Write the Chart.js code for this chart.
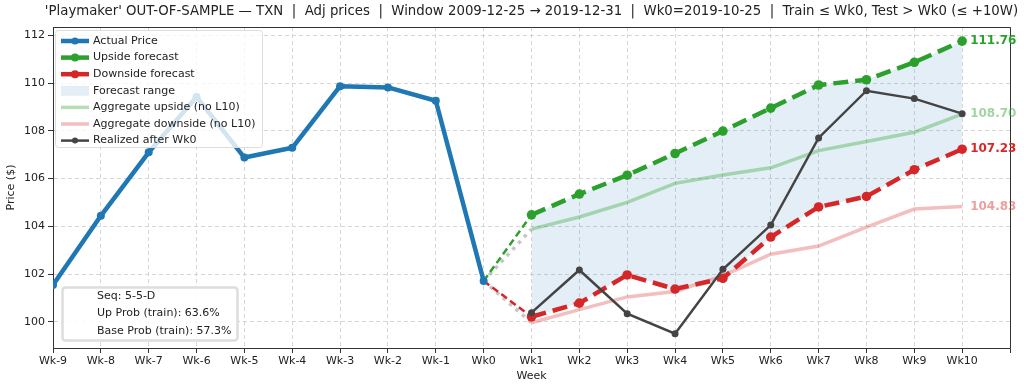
<!DOCTYPE html>
<html>
<head>
<meta charset="utf-8">
<script src="https://cdn.jsdelivr.net/npm/chart.js@4.4.1/dist/chart.umd.min.js"></script>
<style>
  html, body { margin: 0; padding: 0; background: #fff; }
</style>
</head>
<body>
<canvas id="myChart" width="1024" height="391"></canvas>
<script>
const weekLabels = ['Wk-9','Wk-8','Wk-7','Wk-6','Wk-5','Wk-4','Wk-3','Wk-2','Wk-1','Wk0',
                    'Wk1','Wk2','Wk3','Wk4','Wk5','Wk6','Wk7','Wk8','Wk9','Wk10'];

// Wk-9 .. Wk0
const actualPrice = [101.54, 104.44, 107.10, 109.42, 106.88, 107.29, 109.87, 109.82, 109.26, 101.71];
// Wk1 .. Wk10
const upsideForecast   = [104.48, 105.35, 106.14, 107.05, 107.99, 108.95, 109.92, 110.14, 110.87, 111.76];
const downsideForecast = [100.21, 100.78, 101.96, 101.37, 101.82, 103.55, 104.81, 105.25, 106.37, 107.23];
const aggUpside        = [103.88, 104.39, 105.00, 105.80, 106.15, 106.45, 107.17, 107.55, 107.94, 108.70];
const aggDownside      = [ 99.96, 100.51, 101.04, 101.27, 101.92, 102.83, 103.17, 103.96, 104.72, 104.83];
const realized         = [100.38, 102.17, 100.34,  99.50, 102.20, 104.05, 107.70, 109.68, 109.35, 108.72];

const yTicks = [100, 102, 104, 106, 108, 110, 112];
const infoLines = ['Seq: 5-5-D', 'Up Prob (train): 63.6%', 'Base Prob (train): 57.3%'];
const titleText = "'Playmaker' OUT-OF-SAMPLE \u2014 TXN  |  Adj prices  |  Window 2009-12-25 \u2192 2019-12-31  |  Wk0=2019-10-25  |  Train \u2264 Wk0, Test > Wk0 (\u2264 +10W)";

const BLUE = '#1f77b4', GREEN = '#2ca02c', RED = '#d62728', DARK = '#444444';
const FONT = '"DejaVu Sans", sans-serif';

const past = actualPrice.map((v, i) => i);
const future = upsideForecast.map((v, i) => i + actualPrice.length);
const wk0 = past.length - 1;
const pts = (xs, ys) => xs.map((x, i) => ({ x: x, y: ys[i] }));
const link = (yEnd) => [{ x: wk0, y: actualPrice[wk0] }, { x: future[0], y: yEnd }];

const datasets = [
  { label: 'Realized after Wk0', data: pts(future, realized), borderColor: DARK, backgroundColor: DARK,
    borderWidth: 2.5, pointRadius: 3.5, pointBorderWidth: 0, order: 0 },
  { label: 'Actual Price', data: pts(past, actualPrice), borderColor: BLUE, backgroundColor: BLUE,
    borderWidth: 4.5, pointRadius: 4, pointBorderWidth: 0, borderJoinStyle: 'round', order: 1 },
  { label: 'Upside forecast', data: pts(future, upsideForecast), borderColor: GREEN, backgroundColor: GREEN,
    borderWidth: 4.5, borderDash: [15, 7], pointRadius: 4.8, pointBorderWidth: 0, order: 2,
    fill: { target: 3, above: 'rgba(31,119,180,0.12)', below: 'rgba(31,119,180,0.12)' } },
  { label: 'Downside forecast', data: pts(future, downsideForecast), borderColor: RED, backgroundColor: RED,
    borderWidth: 4.5, borderDash: [15, 7], pointRadius: 4.8, pointBorderWidth: 0, order: 3 },
  { label: 'up link', data: link(upsideForecast[0]), borderColor: GREEN, borderWidth: 2.5,
    borderDash: [7, 4], pointRadius: 0, order: 4 },
  { label: 'down link', data: link(downsideForecast[0]), borderColor: RED, borderWidth: 2.5,
    borderDash: [7, 4], pointRadius: 0, order: 5 },
  { label: 'agg up link', data: link(aggUpside[0]), borderColor: 'rgba(160,160,160,0.6)', borderWidth: 3.5,
    borderDash: [3.5, 5], pointRadius: 0, order: 6 },
  { label: 'agg down link', data: link(aggDownside[0]), borderColor: 'rgba(160,160,160,0.6)', borderWidth: 3.5,
    borderDash: [3.5, 5], pointRadius: 0, order: 7 },
  { label: 'Aggregate upside (no L10)', data: pts(future, aggUpside), borderColor: 'rgba(44,160,44,0.35)',
    borderWidth: 3.5, pointRadius: 0, order: 8 },
  { label: 'Aggregate downside (no L10)', data: pts(future, aggDownside), borderColor: 'rgba(214,39,40,0.3)',
    borderWidth: 3.5, pointRadius: 0, order: 9 }
];

const legendItems = [
  { label: 'Actual Price', color: BLUE, width: 4.5, dash: [], r: 3.5 },
  { label: 'Upside forecast', color: GREEN, width: 4.5, dash: [], r: 4 },
  { label: 'Downside forecast', color: RED, width: 4.5, dash: [], r: 4 },
  { label: 'Forecast range', box: 'rgba(31,119,180,0.12)' },
  { label: 'Aggregate upside (no L10)', color: 'rgba(44,160,44,0.35)', width: 3.5, dash: [], r: 0 },
  { label: 'Aggregate downside (no L10)', color: 'rgba(214,39,40,0.3)', width: 3.5, dash: [], r: 0 },
  { label: 'Realized after Wk0', color: DARK, width: 2.5, dash: [], r: 3 }
];

const endLabels = [
  { v: upsideForecast[upsideForecast.length - 1], color: GREEN },
  { v: aggUpside[aggUpside.length - 1], color: 'rgba(44,160,44,0.45)' },
  { v: downsideForecast[downsideForecast.length - 1], color: RED },
  { v: aggDownside[aggDownside.length - 1], color: 'rgba(214,39,40,0.45)' }
];

const overlay = {
  id: 'overlay',
  afterDraw(chart) {
    const { ctx, chartArea: a, scales: { x, y } } = chart;
    ctx.save();
    // top and right spines
    ctx.strokeStyle = '#333'; ctx.lineWidth = 1;
    ctx.beginPath();
    ctx.moveTo(a.left, a.top + 0.5); ctx.lineTo(a.right + 0.5, a.top + 0.5); ctx.lineTo(a.right + 0.5, a.bottom);
    ctx.stroke();

    // title
    ctx.fillStyle = '#222'; ctx.font = '13.3px ' + FONT;
    ctx.textAlign = 'center'; ctx.textBaseline = 'middle';
    ctx.fillText(titleText, (a.left + a.right) / 2, 12);

    // values at Wk10
    ctx.font = 'bold 12px ' + FONT; ctx.textAlign = 'left';
    const xEnd = x.getPixelForValue(future[future.length - 1]) + 8;
    endLabels.forEach(l => { ctx.fillStyle = l.color; ctx.fillText(l.v.toFixed(2), xEnd, y.getPixelForValue(l.v)); });

    // legend
    const lx = a.left + 2, ly = a.top + 3, lw = 207, lh = 117;
    ctx.beginPath(); ctx.roundRect(lx + 0.5, ly + 0.5, lw, lh, 3);
    ctx.fillStyle = 'rgba(255,255,255,0.8)'; ctx.fill();
    ctx.strokeStyle = '#dddddd'; ctx.lineWidth = 1; ctx.stroke();
    ctx.font = '11px ' + FONT; ctx.textAlign = 'left'; ctx.textBaseline = 'middle';
    legendItems.forEach((it, i) => {
      const cy = ly + 11 + i * 16.6;
      if (it.box) {
        ctx.fillStyle = it.box; ctx.fillRect(lx + 6, cy - 5, 28, 10);
      } else {
        ctx.strokeStyle = it.color; ctx.lineWidth = it.width; ctx.setLineDash(it.dash);
        ctx.beginPath(); ctx.moveTo(lx + 6, cy); ctx.lineTo(lx + 34, cy); ctx.stroke();
        ctx.setLineDash([]);
        if (it.r) { ctx.fillStyle = it.color; ctx.beginPath(); ctx.arc(lx + 20, cy, it.r, 0, Math.PI * 2); ctx.fill(); }
      }
      ctx.fillStyle = '#222'; ctx.fillText(it.label, lx + 38, cy);
    });

    // info box
    const bx = a.left + 9, by = a.bottom - 61, bw = 175, bh = 53;
    ctx.beginPath(); ctx.roundRect(bx + 0.5, by + 0.5, bw, bh, 3);
    ctx.fillStyle = 'rgba(255,255,255,0.85)'; ctx.fill();
    ctx.strokeStyle = '#dddddd'; ctx.stroke();
    ctx.fillStyle = '#222';
    infoLines.forEach((t, i) => ctx.fillText(t, bx + 35, by + 9 + i * 17.5));
    ctx.restore();
  }
};

Chart.defaults.font.family = FONT;
Chart.defaults.font.size = 11;
Chart.defaults.color = '#222';

const ctx = document.getElementById('myChart');
const chart = new Chart(ctx, {
  type: 'line',
  data: { datasets: datasets },
  plugins: [overlay],
  options: {
    responsive: false,
    animation: false,
    layout: { padding: { top: 27, right: 14, left: 0, bottom: 0 } },
    plugins: {
      legend: { display: false },
      tooltip: { enabled: false },
      filler: { drawTime: 'beforeDatasetsDraw' }
    },
    scales: {
      x: {
        type: 'linear', min: 0, max: weekLabels.length,
        afterFit: s => { s.height = 43; },
        afterBuildTicks: s => { s.ticks = weekLabels.map((l, i) => ({ value: i })).concat([{ value: weekLabels.length }]); },
        ticks: { padding: 2, maxRotation: 0, autoSkip: false, callback: v => weekLabels[v] || '' },
        grid: { color: '#cccccc', lineWidth: 0.8, tickLength: 5, tickColor: '#333', tickWidth: 1 },
        border: { color: '#333', width: 1, dash: [4, 3] },
        title: { display: true, text: 'Week', padding: { top: 8, bottom: 8 } }
      },
      y: {
        min: 98.9, max: 112.35,
        afterFit: s => { s.width = 53; },
        afterBuildTicks: s => { s.ticks = yTicks.map(v => ({ value: v })); },
        ticks: { padding: 3 },
        grid: { color: '#cccccc', lineWidth: 0.8, tickLength: 5, tickColor: '#333', tickWidth: 1 },
        border: { color: '#333', width: 1, dash: [4, 3] },
        title: { display: true, text: 'Price ($)', padding: { top: 5, bottom: 5 } }
      }
    }
  }
});
</script>
</body>
</html>
